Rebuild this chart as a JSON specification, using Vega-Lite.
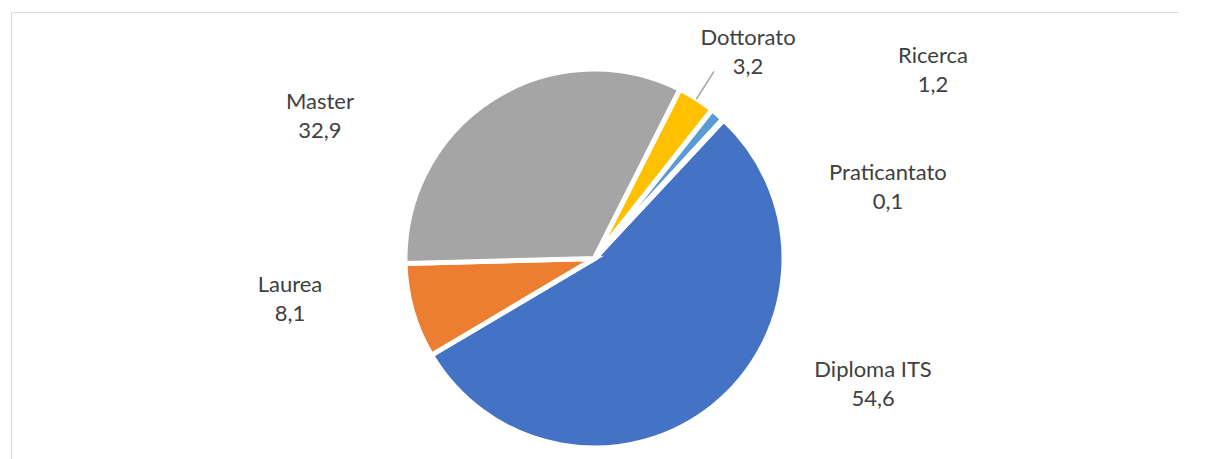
{
  "$schema": "https://vega.github.io/schema/vega-lite/v6.json",
  "width": 1167,
  "height": 493,
  "autosize": {"type": "none"},
  "padding": {"left": 11, "top": 12, "right": 0, "bottom": 0},
  "background": "white",
  "view": {"stroke": "#d9d9d9", "strokeWidth": 1},
  "config": {"font": "Lato"},
  "data": {
    "values": [
      {"categoria": "Diploma ITS", "valore": 54.6, "ordine": 1},
      {"categoria": "Laurea", "valore": 8.1, "ordine": 2},
      {"categoria": "Master", "valore": 32.9, "ordine": 3},
      {"categoria": "Dottorato", "valore": 3.2, "ordine": 4},
      {"categoria": "Ricerca", "valore": 1.2, "ordine": 5},
      {"categoria": "Praticantato", "valore": 0.1, "ordine": 6}
    ]
  },
  "transform": [
    {"calculate": "[datum.categoria, replace(format(datum.valore, '.1f'), '.', ',')]", "as": "etichetta"}
  ],
  "encoding": {
    "theta": {"field": "valore", "type": "quantitative", "stack": true, "scale": {"domain": [0, 100.1], "range": [0.7505, 7.0337]}},
    "order": {"field": "ordine", "type": "quantitative"}
  },
  "layer": [
    {
      "mark": {"type": "arc", "outerRadius": 189.5, "stroke": "white", "strokeWidth": 5},
      "encoding": {
        "color": {
          "field": "categoria", "type": "nominal", "legend": null,
          "scale": {
            "domain": ["Diploma ITS", "Laurea", "Master", "Dottorato", "Ricerca", "Praticantato"],
            "range": ["#4472C4", "#ED7D31", "#A5A5A5", "#FFC000", "#5B9BD5", "#70AD47"]
          }
        }
      }
    },
    {
      "mark": {"type": "arc", "innerRadius": 189, "outerRadius": 222, "padAngle": 1.5, "fill": null, "stroke": "#a6a6a6", "strokeWidth": 1.5},
      "encoding": {
        "strokeOpacity": {"condition": {"test": "datum.categoria === 'Dottorato'", "value": 1}, "value": 0}
      }
    },
    {
      "mark": {"type": "text", "radius": 215, "dx": 143.8, "dy": -56, "fontSize": 22, "lineHeight": 29, "fill": "#404040", "align": "center", "baseline": "middle"},
      "encoding": {"text": {"field": "etichetta"}, "opacity": {"condition": {"test": "datum.categoria === 'Diploma ITS'", "value": 1}, "value": 0}}
    },
    {
      "mark": {"type": "text", "radius": 215, "dx": -97.9, "dy": -33, "fontSize": 22, "lineHeight": 29, "fill": "#404040", "align": "center", "baseline": "middle"},
      "encoding": {"text": {"field": "etichetta"}, "opacity": {"condition": {"test": "datum.categoria === 'Laurea'", "value": 1}, "value": 0}}
    },
    {
      "mark": {"type": "text", "radius": 215, "dx": -159.5, "dy": 25, "fontSize": 22, "lineHeight": 29, "fill": "#404040", "align": "center", "baseline": "middle"},
      "encoding": {"text": {"field": "etichetta"}, "opacity": {"condition": {"test": "datum.categoria === 'Master'", "value": 1}, "value": 0}}
    },
    {
      "mark": {"type": "text", "radius": 215, "dx": 37.8, "dy": -39.5, "fontSize": 22, "lineHeight": 29, "fill": "#404040", "align": "center", "baseline": "middle"},
      "encoding": {"text": {"field": "etichetta"}, "opacity": {"condition": {"test": "datum.categoria === 'Dottorato'", "value": 1}, "value": 0}}
    },
    {
      "mark": {"type": "text", "radius": 215, "dx": 198.9, "dy": -39, "fontSize": 22, "lineHeight": 29, "fill": "#404040", "align": "center", "baseline": "middle"},
      "encoding": {"text": {"field": "etichetta"}, "opacity": {"condition": {"test": "datum.categoria === 'Ricerca'", "value": 1}, "value": 0}}
    },
    {
      "mark": {"type": "text", "radius": 215, "dx": 147.3, "dy": 72, "fontSize": 22, "lineHeight": 29, "fill": "#404040", "align": "center", "baseline": "middle"},
      "encoding": {"text": {"field": "etichetta"}, "opacity": {"condition": {"test": "datum.categoria === 'Praticantato'", "value": 1}, "value": 0}}
    }
  ]
}
